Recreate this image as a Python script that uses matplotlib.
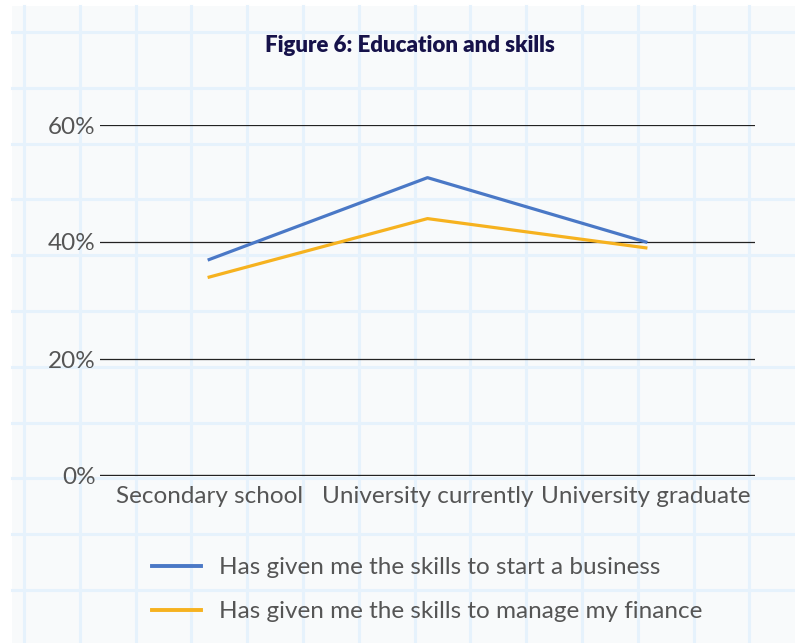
import matplotlib
matplotlib.use("Agg")
import matplotlib.pyplot as plt
from matplotlib.patches import Rectangle

# datos
categorias = ["Secondary school", "University currently", "University graduate"]
negocio = [37, 51, 40]
finanzas = [34, 44, 39]
etiquetas_y = ["0%", "20%", "40%", "60%"]
valores_y = [0, 20, 40, 60]

plt.rcParams['font.family'] = ['Lato', 'DejaVu Sans']

fig = plt.figure(figsize=(7.95, 6.43), dpi=100)
fig.patch.set_facecolor("white")

# fondo tipo papel cuadriculado
bg = fig.add_axes([0, 0, 1, 1], zorder=0)
bg.set_xlim(0, 795)
bg.set_ylim(643, 0)
bg.axis("off")
bg.add_patch(Rectangle((12, 6), 790, 640, color="#f8fafb", lw=0))
x = 24.0
while x < 795:
    bg.plot([x, x], [6, 643], color="#e6f2fc", lw=2.2)
    x += 55.8
y = 32.0
while y < 643:
    bg.plot([12, 795], [y, y], color="#e6f2fc", lw=2.2)
    y += 55.8

ax = fig.add_axes([100 / 795, 1 - 476 / 643, 655 / 795, 351 / 643], zorder=1)
ax.patch.set_alpha(0)

pos = range(len(categorias))
ax.plot(pos, negocio, color="#4a78c6", lw=2.3,
        label="Has given me the skills to start a business")
ax.plot(pos, finanzas, color="#f6b21f", lw=2.3,
        label="Has given me the skills to manage my finance")

ax.set_xlim(-0.5, 2.5)
ax.set_ylim(0, 60)
ax.set_yticks(valores_y)
ax.set_yticklabels(etiquetas_y)
ax.set_xticks(list(pos))
ax.set_xticklabels(categorias)
ax.tick_params(length=0, labelsize=17.5, labelcolor="#555555")
ax.tick_params(axis="y", pad=3)
ax.tick_params(axis="x", pad=7)
for s in ax.spines.values():
    s.set_visible(False)
for v in valores_y[1:]:
    ax.axhline(v, color="#222222", lw=0.9, zorder=0)
ax.axhline(0, color="#222222", lw=1.7, zorder=0)

fig.text(0.516, 1 - 46 / 643, "Figure 6: Education and skills", ha="center",
         va="center", fontsize=16, fontweight="heavy", color="#16124a")

leg = fig.legend(loc="upper left", bbox_to_anchor=(152 / 795, 1 - 557 / 643),
                 frameon=False, fontsize=17.5, handlelength=2.0,
                 handletextpad=0.74, labelspacing=0.95,
                 borderpad=0, borderaxespad=0)
for t in leg.get_texts():
    t.set_color("#555555")
for h in leg.get_lines():
    h.set_linewidth(2.8)

fig.savefig("out.png", dpi=100)
